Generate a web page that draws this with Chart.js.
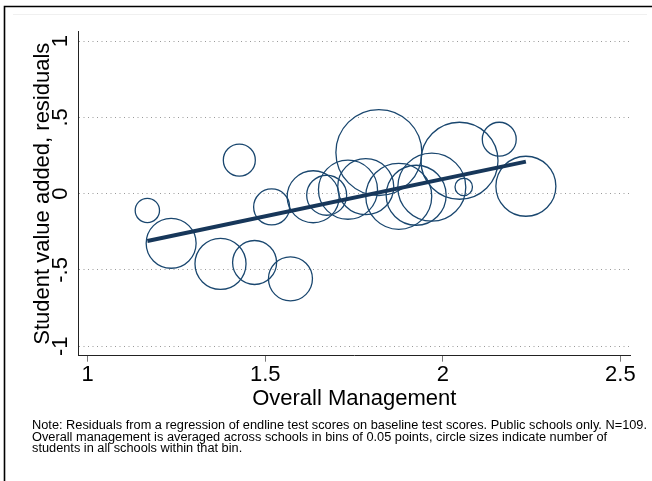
<!DOCTYPE html>
<html>
<head>
<meta charset="utf-8">
<script src="https://cdn.jsdelivr.net/npm/chart.js@4/dist/chart.umd.min.js"></script>
<style>
  html, body { margin: 0; padding: 0; background: #fff; }
  canvas { display: block; }
</style>
</head>
<body>
<canvas id="chart" width="652" height="481"></canvas>
<script>
// Management bins (bin average of overall management score)
const binMgmt = [1.168, 1.235, 1.374, 1.427, 1.470, 1.518, 1.571, 1.635, 1.673, 1.733,
                 1.783, 1.820, 1.876, 1.925, 1.969, 2.047, 2.059, 2.159, 2.234];
// Mean student value-added residual in each bin
const residual = [-0.110, -0.325, -0.460, 0.220, -0.451, -0.087, -0.558, -0.020, -0.010, 0.026,
                  0.046, 0.270, -0.017, -0.010, 0.043, 0.216, 0.044, 0.357, 0.049];
// Number of students in all schools within each bin (marker area)
const students = [37, 156, 163, 64, 121, 81, 121, 169, 100, 218,
                  196, 462, 272, 225, 289, 371, 19, 72, 225];
// Linear fit end points
const fitX = [1.168, 2.234];
const fitY = [-0.31, 0.21];

const xTicks = [1, 1.5, 2, 2.5];
const xTickLabels = ['1', '1.5', '2', '2.5'];
const yTicks = [-1, -0.5, 0, 0.5, 1];
const yTickLabels = ['-1', '-.5', '0', '.5', '1'];

const xTitle = 'Overall Management';
const yTitle = 'Student value added, residuals';
const noteLines = [
  'Note: Residuals from a regression of endline test scores on baseline test scores. Public schools only. N=109.',
  'Overall management is averaged across schools in bins of 0.05 points, circle sizes indicate number of',
  'students in all schools within that bin.'
];

const FONT = '"Liberation Sans", Arial, Helvetica, sans-serif';

// White page with the outer frame lines
const framePlugin = {
  id: 'frame',
  beforeDraw(chart) {
    const c = chart.ctx;
    c.save();
    c.fillStyle = '#ffffff';
    c.fillRect(0, 0, chart.width, chart.height);
    c.strokeStyle = '#f0f0f0';
    c.lineWidth = 1;
    c.beginPath();
    c.moveTo(13, 14.5);
    c.lineTo(647, 14.5);
    c.stroke();
    c.strokeStyle = '#000';
    c.lineWidth = 1.6;
    c.beginPath();
    c.moveTo(4.5, chart.height);
    c.lineTo(4.5, 6.5);
    c.lineTo(chart.width, 6.5);
    c.stroke();
    c.restore();
  }
};

// Footnote under the x axis
const notePlugin = {
  id: 'note',
  afterDraw(chart) {
    const c = chart.ctx;
    c.save();
    c.font = '12px ' + FONT;
    c.fillStyle = '#000';
    c.textBaseline = 'alphabetic';
    c.textAlign = 'left';
    const w = c.measureText(noteLines[0]).width;
    c.translate(32, 0);
    c.scale(615 / w, 1);
    noteLines.forEach((t, i) => c.fillText(t, 0, 429 + i * 11.7));
    c.restore();
  }
};

// Keep the plot frame fixed: no extra room for overhanging tick labels
function noOverhang(s) {
  s.paddingLeft = 0;
  s.paddingRight = 0;
  s.paddingTop = 0;
  s.paddingBottom = 0;
}

new Chart(document.getElementById('chart'), {
  type: 'bubble',
  data: {
    datasets: [
      {
        type: 'line',
        data: fitX.map((x, i) => ({ x: x, y: fitY[i] })),
        borderColor: '#17375a',
        borderWidth: 4,
        pointRadius: 0,
        fill: false,
        order: 0
      },
      {
        type: 'bubble',
        data: binMgmt.map((x, i) => ({ x: x, y: residual[i], r: 2 * Math.sqrt(students[i]) })),
        backgroundColor: 'rgba(0,0,0,0)',
        borderColor: '#1a476f',
        borderWidth: 1.3,
        hoverBorderWidth: 1.3,
        order: 1
      }
    ]
  },
  options: {
    responsive: false,
    animation: false,
    events: [],
    layout: { autoPadding: false, padding: { left: 20, right: 21.5, top: 31.7, bottom: 68.4 } },
    plugins: { legend: { display: false }, tooltip: { enabled: false } },
    scales: {
      x: {
        type: 'linear',
        position: 'bottom',
        min: 0.9727,
        max: 2.5286,
        afterBuildTicks: s => { s.ticks = xTicks.map(v => ({ value: v })); },
        afterFit: s => { s.height = 56.9; noOverhang(s); },
        ticks: {
          callback: (v, i) => xTickLabels[i],
          font: { family: FONT, size: 22 },
          color: '#000',
          padding: 0.5,
          minRotation: 0,
          maxRotation: 0,
          autoSkip: false
        },
        grid: { display: true, drawOnChartArea: false, drawTicks: true, tickLength: 6, tickColor: '#777', tickWidth: 1 },
        border: { display: true, color: '#222', width: 1 },
        title: { display: true, text: xTitle, font: { family: FONT, size: 22 }, color: '#000', padding: { top: 0, bottom: 0 } }
      },
      y: {
        type: 'linear',
        position: 'left',
        min: -1.062,
        max: 1.062,
        afterBuildTicks: s => { s.ticks = yTicks.map(v => ({ value: v })); },
        afterFit: s => { s.width = 58; noOverhang(s); },
        ticks: {
          callback: (v, i) => yTickLabels[i],
          font: { family: FONT, size: 22 },
          color: '#000',
          padding: 3.8,
          minRotation: 90,
          maxRotation: 90,
          crossAlign: 'center',
          autoSkip: false
        },
        grid: { display: true, drawOnChartArea: true, drawTicks: false, color: '#9a9a9a', lineWidth: 1 },
        border: { display: true, color: '#222', width: 1, dash: [1, 3.5] },
        title: { display: true, text: yTitle, font: { family: FONT, size: 22 }, color: '#000', padding: { top: 10.2, bottom: 0 } }
      }
    }
  },
  plugins: [framePlugin, notePlugin]
});
</script>
</body>
</html>
